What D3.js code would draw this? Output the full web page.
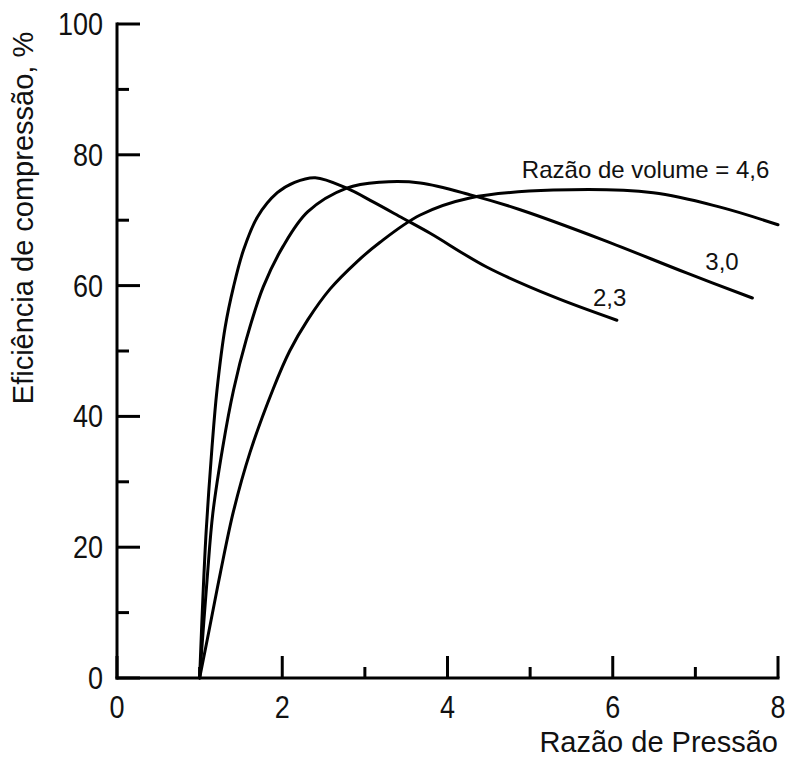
<!DOCTYPE html>
<html>
<head>
<meta charset="utf-8">
<script src="https://cdn.jsdelivr.net/npm/d3@7"></script>
<style>
html,body{margin:0;padding:0;background:#fff;}
text{font-family:"Liberation Sans",Arial,sans-serif;fill:#111;}
</style>
</head>
<body>
<svg id="chart" width="787" height="759"></svg>
<script>
const xTicks = [0, 2, 4, 6, 8];
const xMinor = [1, 3, 5, 7];
const yTicks = [0, 20, 40, 60, 80, 100];
const yMinor = [10, 30, 50, 70, 90];

const curve23 = [[1.0,0],[1.04,12.4],[1.08,22.6],[1.15,35.3],[1.21,44],[1.31,53.7],[1.41,59.8],[1.53,65.4],[1.70,70.5],[1.94,74.2],[2.15,75.8],[2.40,76.5],[2.78,74.9],[3.10,72.8],[3.46,70.3],[3.79,68.0],[4.48,62.8],[5.28,58.3],[6.05,54.7]];
const curve30 = [[1.0,0],[1.09,15],[1.16,25.2],[1.28,35.3],[1.41,44],[1.57,52],[1.77,59.8],[2.01,66],[2.31,71.3],[2.78,74.9],[3.18,75.8],[3.67,75.7],[4.3,73.8],[4.88,71.6],[5.88,67],[6.90,61.9],[7.69,58.1]];
const curve46 = [[1.0,0],[1.11,7],[1.25,16],[1.41,25.5],[1.61,34.5],[1.89,44.2],[2.09,50],[2.31,54.8],[2.58,59.5],[2.90,63.6],[3.18,66.6],[3.67,70.8],[4.27,73.4],[5.28,74.6],[6.49,74.2],[7.30,72.0],[8.0,69.3]];
const seriesLabels = [
  {text:"Razão de volume = 4,6", x:4.9, y:76.5},
  {text:"3,0", x:7.12, y:62.4},
  {text:"2,3", x:5.76, y:56.9}
];

const svg = d3.select("#chart");
const x = d3.scaleLinear().domain([0, 8]).range([117, 778]);
const y = d3.scaleLinear().domain([0, 100]).range([678, 24]);

const line = d3.line().x(d => x(d[0])).y(d => y(d[1])).curve(d3.curveCatmullRom.alpha(0.5));

[curve23, curve30, curve46].forEach(c => {
  svg.append("path").datum(c).attr("d", line)
    .attr("fill", "none").attr("stroke", "#000").attr("stroke-width", 3)
    .attr("stroke-linejoin", "round").attr("stroke-linecap", "round");
});

// axes lines
svg.append("line").attr("x1", x(0)).attr("x2", x(8)).attr("y1", y(0)).attr("y2", y(0))
  .attr("stroke", "#000").attr("stroke-width", 3).attr("stroke-linecap","square");
svg.append("line").attr("x1", x(0)).attr("x2", x(0)).attr("y1", y(0)).attr("y2", y(100))
  .attr("stroke", "#000").attr("stroke-width", 3).attr("stroke-linecap","square");

// x ticks (inward)
svg.selectAll(".xt").data(xTicks).enter().append("line")
  .attr("x1", d => x(d)).attr("x2", d => x(d)).attr("y1", y(0)).attr("y2", y(0) - 22)
  .attr("stroke", "#000").attr("stroke-width", 3);
svg.selectAll(".xm").data(xMinor).enter().append("line")
  .attr("x1", d => x(d)).attr("x2", d => x(d)).attr("y1", y(0)).attr("y2", y(0) - 11)
  .attr("stroke", "#000").attr("stroke-width", 3);
svg.selectAll(".xl").data(xTicks).enter().append("text")
  .attr("transform", d => `translate(${x(d)},${y(0) + 40}) scale(1,1.13)`)
  .attr("text-anchor", "middle")
  .style("font-size", "27px").text(d => d);

// y ticks (inward)
svg.selectAll(".yt").data(yTicks).enter().append("line")
  .attr("x1", x(0)).attr("x2", x(0) + 23).attr("y1", d => y(d)).attr("y2", d => y(d))
  .attr("stroke", "#000").attr("stroke-width", 3);
svg.selectAll(".ym").data(yMinor).enter().append("line")
  .attr("x1", x(0)).attr("x2", x(0) + 12).attr("y1", d => y(d)).attr("y2", d => y(d))
  .attr("stroke", "#000").attr("stroke-width", 3);
svg.selectAll(".yl").data(yTicks).enter().append("text")
  .attr("transform", d => `translate(${x(0) - 14},${y(d) + 11}) scale(1,1.13)`)
  .attr("text-anchor", "end")
  .style("font-size", "27px").text(d => d);

// axis titles
svg.append("text").attr("x", 778).attr("y", 752).attr("text-anchor", "end")
  .style("font-size", "29px").text("Razão de Pressão");
svg.append("text").attr("transform", "translate(33,218) rotate(-90)")
  .attr("text-anchor", "middle").style("font-size", "29px")
  .text("Eficiência de compressão, %");

// series labels
svg.selectAll(".sl").data(seriesLabels).enter().append("text")
  .attr("x", d => x(d.x)).attr("y", d => y(d.y))
  .style("font-size", "24px").text(d => d.text);
</script>
</body>
</html>
